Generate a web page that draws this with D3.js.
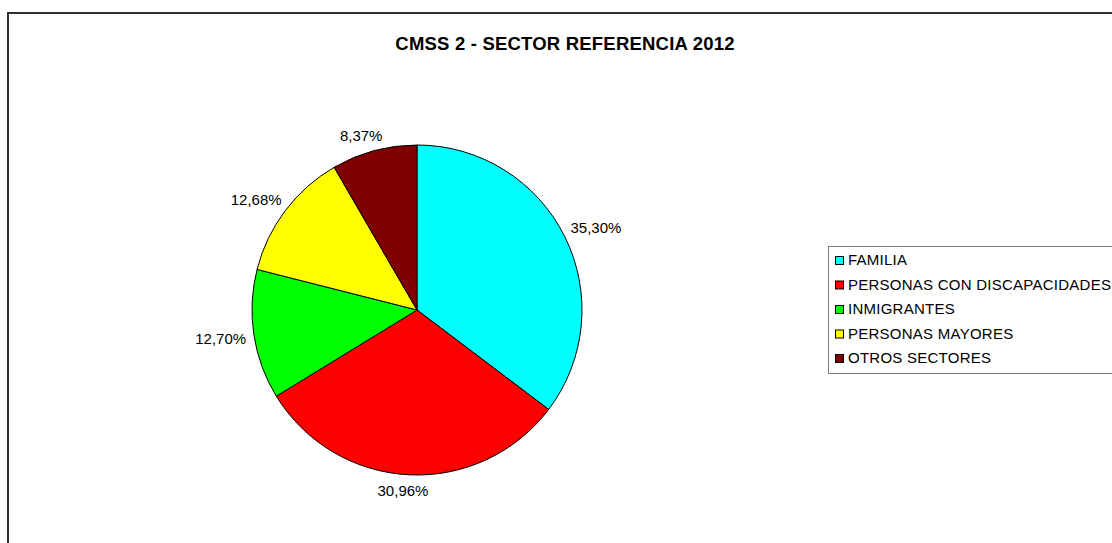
<!DOCTYPE html>
<html>
<head>
<meta charset="utf-8">
<script src="https://cdn.jsdelivr.net/npm/d3@7"></script>
<style>
  html, body { margin: 0; padding: 0; background: #fff; }
  svg { display: block; font-family: "Liberation Sans", Arial, sans-serif; }
</style>
</head>
<body>
<svg id="chart" width="1112" height="543"></svg>
<script>
const title = "CMSS 2 - SECTOR REFERENCIA 2012";
const categories = ["FAMILIA", "PERSONAS CON DISCAPACIDADES", "INMIGRANTES", "PERSONAS MAYORES", "OTROS SECTORES"];
const values = [35.30, 30.96, 12.70, 12.68, 8.37];
const labels = ["35,30%", "30,96%", "12,70%", "12,68%", "8,37%"];
const colors = ["#00FFFF", "#FF0000", "#00FF00", "#FFFF00", "#800000"];

const svg = d3.select("#chart");
const W = 1112, H = 543;

// chart frame
svg.append("rect")
  .attr("x", 8).attr("y", 13)
  .attr("width", W + 20).attr("height", H + 20)
  .attr("fill", "#fff").attr("stroke", "#303030").attr("stroke-width", 2);

// title
svg.append("text")
  .attr("x", 565).attr("y", 49.5)
  .attr("text-anchor", "middle")
  .attr("font-size", 18.5).attr("font-weight", "bold").attr("fill", "#000")
  .attr("letter-spacing", 0.2)
  .text(title);

// pie
const cx = 417, cy = 310, r = 165;
const pie = d3.pie().sort(null).value(d => d)(values);
const arc = d3.arc().innerRadius(0).outerRadius(r);
const g = svg.append("g").attr("transform", `translate(${cx},${cy})`);

g.selectAll("path").data(pie).join("path")
  .attr("d", arc)
  .attr("fill", (d, i) => colors[i])
  .attr("stroke", "#000").attr("stroke-width", 1);

// labels
const fs = 15;
const labelG = g.selectAll("text.lbl").data(pie).join("text")
  .attr("class", "lbl")
  .attr("font-size", fs).attr("fill", "#000")
  .attr("text-anchor", "middle")
  .text((d, i) => labels[i]);

labelG.each(function(d) {
  const a = (d.startAngle + d.endAngle) / 2;
  const w = this.getBBox().width, h = fs;
  const s = Math.sin(a), c = Math.cos(a);
  const rr = r + 8;
  const x = rr * s + Math.sign(s) * Math.sqrt(Math.abs(s)) * (w / 2);
  const y = -rr * c - Math.sign(c) * Math.sqrt(Math.abs(c)) * (h / 2);
  d3.select(this).attr("x", x).attr("y", y + fs * 0.35);
});

// legend
const lx = 828, ly = 246;
svg.append("rect")
  .attr("x", lx + 0.5).attr("y", ly + 0.5)
  .attr("width", 400).attr("height", 127)
  .attr("fill", "#fff").attr("stroke", "#808080").attr("stroke-width", 1);

const rowY = d3.scalePoint().domain(categories).range([260, 358]);
const leg = svg.append("g");
categories.forEach((c, i) => {
  const y = rowY(c);
  leg.append("rect")
    .attr("x", 835.5).attr("y", y - 3.5)
    .attr("width", 8).attr("height", 8)
    .attr("fill", colors[i]).attr("stroke", "#000").attr("stroke-width", 1);
  leg.append("text")
    .attr("x", 848).attr("y", y + fs * 0.35)
    .attr("font-size", fs).attr("fill", "#000")
    .attr("letter-spacing", 0.25)
    .text(c);
});
</script>
</body>
</html>
